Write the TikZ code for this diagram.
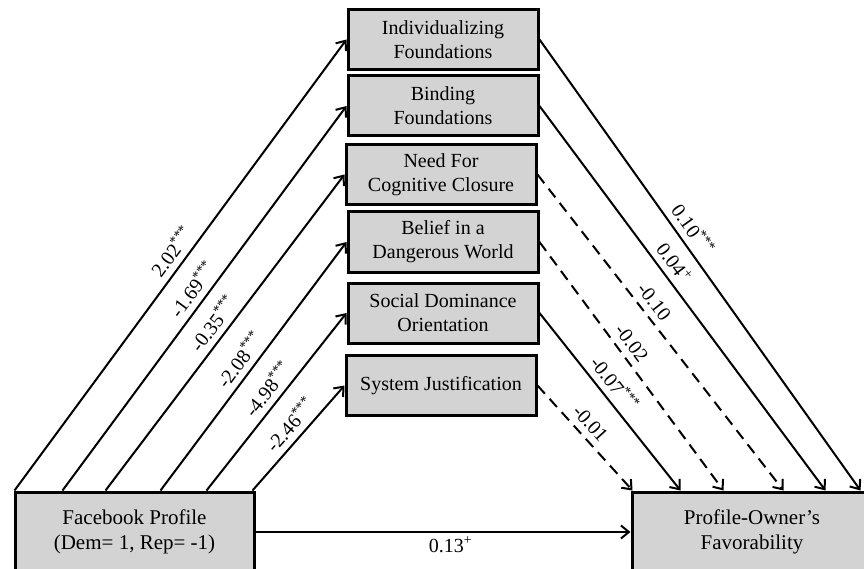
\documentclass[tikz,border=0pt]{standalone}
\usepackage{fontspec}
\setmainfont{Liberation Serif}
\usetikzlibrary{arrows.meta}
\definecolor{boxgray}{RGB}{211,211,211}
\tikzset{
  varbox/.style={draw, line width=3pt, fill=boxgray, minimum width=190pt, minimum height=60pt,
    align=center, inner sep=0pt, font=\rmfamily\fontsize{20}{24}\selectfont},
  effect/.style={line width=2pt, -{Straight Barb[length=8pt,width=13pt,line width=2pt]}},
  weak/.style={dash pattern=on 11pt off 7pt},
  coef/.style={sloped, above, inner sep=6pt, font=\rmfamily\fontsize{20}{22}\selectfont}
}
\begin{document}
\begin{tikzpicture}[x=1pt, y=-1pt]
    \useasboundingbox (0,0) rectangle (864,569);

    % Mediators
    \node[varbox] (ind) at (443,39.5) {Individualizing\\Foundations};
    \node[varbox] (bind) at (443,106) {Binding\\Foundations};
    \node[varbox] (nfc) at (441,174.5) {Need For\\Cognitive Closure};
    \node[varbox] (bdw) at (443,242) {Belief in a\\Dangerous World};
    \node[varbox] (sdo) at (443,313) {Social Dominance\\Orientation};
    \node[varbox] (sj) at (441,385.5) {System Justification};

    % Predictor and outcome
    \node[varbox, minimum width=239pt, minimum height=80pt, font=\rmfamily\fontsize{21}{25}\selectfont]
        (fb) at (134.5,532) {Facebook Profile\\(Dem= 1, Rep= -1)};
    \node[varbox, minimum width=240pt, minimum height=80pt, font=\rmfamily\fontsize{21}{25}\selectfont]
        (po) at (752,532) {Profile-Owner’s\\Favorability};

    % Predictor to mediators
    \foreach \m/\dx/\b/\p in {ind/1/2.02/0.51, bind/49/-1.69/0.50, nfc/92/-0.35/0.50,
                              bdw/147/-2.08/0.49, sdo/193/-4.98/0.52, sj/239/-2.46/0.53} {
        \draw[effect] ([xshift=\dx pt]fb.north west) -- (\m.west)
            node[coef, pos=\p] {\b\textsuperscript{***}};
    }

    % Mediators to outcome
    \foreach \m/\dx/\c/\p/\s in {ind/230/{0.10\textsuperscript{***}}/0.44/solid,
                                 bind/195/{0.04\textsuperscript{+}}/0.43/solid,
                                 nfc/153/-0.10/0.43/weak, bdw/93/-0.02/0.44/weak,
                                 sdo/50/{-0.07\textsuperscript{***}}/0.45/solid,
                                 sj/2/-0.01/0.45/weak} {
        \draw[effect, \s] (\m.east) -- ([xshift=\dx pt]po.north west)
            node[coef, pos=\p] {\c};
    }

    % Direct effect
    \draw[effect] (fb.east) -- (po.west)
        node[below, pos=0.52, inner sep=4pt, font=\rmfamily\fontsize{20}{22}\selectfont] {0.13\textsuperscript{+}};
\end{tikzpicture}
\end{document}
